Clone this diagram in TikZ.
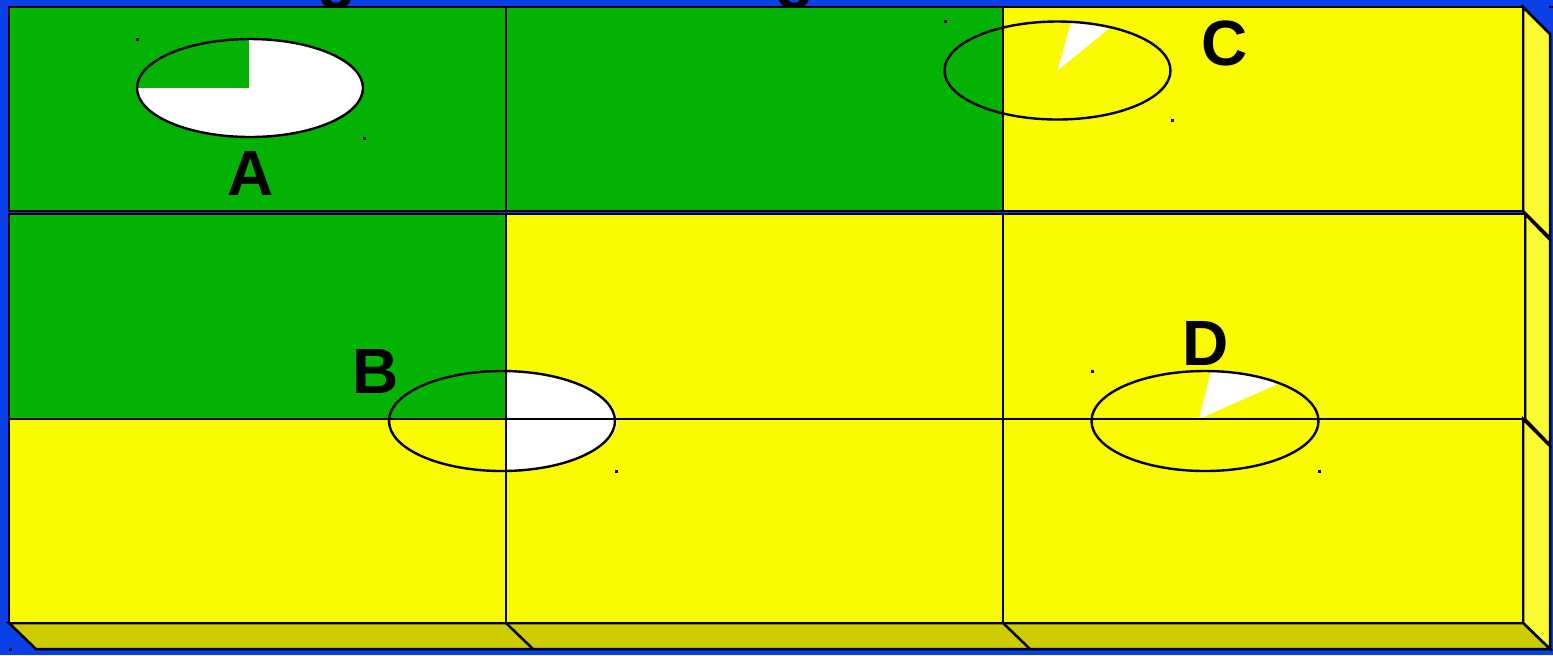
\documentclass[tikz,border=0pt]{standalone}
\usepackage{fontspec}
\usetikzlibrary{calc}
\newfontfamily\labfont{Liberation Sans}
\definecolor{bgblue}{RGB}{10,64,232}
\definecolor{cgreen}{RGB}{4,178,4}
\definecolor{cyellow}{RGB}{250,250,0}
\definecolor{sideyellow}{RGB}{250,250,50}
\definecolor{bottomyellow}{RGB}{204,204,0}
\tikzset{
  cellline/.style={draw=black, line width=1.25pt},
  face/.style={fill=sideyellow, draw=black, line width=1.25pt, line join=miter},
  bottomface/.style={fill=bottomyellow, draw=black, line width=1.25pt, line join=miter},
  lab/.style={font=\labfont\bfseries\fontsize{32}{36}\selectfont, inner sep=0pt, text=black},
  wedge/.style={fill=white},
  oval/.style={draw=black, line width=1.2pt},
  marker/.style={fill=black},
}
\begin{document}
\begin{tikzpicture}[x=0.5pt,y=-0.5pt]
\useasboundingbox (0,0) rectangle (1553,655);
\fill[bgblue] (0,0) rectangle (1553,655);
% partially visible letters at the top
\node[lab,anchor=base] (g1) at (337,-4.5) {g};
\node[lab,anchor=base] (g2) at (795,-4.5) {g};
% row 1
\filldraw[face] (1523,7) -- (1550,34) -- (1550,238) -- (1523,211) -- cycle;
\fill[cgreen] (9,7) rectangle (506,211);
\fill[cgreen] (506,7) rectangle (1003,211);
\fill[cyellow] (1003,7) rectangle (1523,211);
% row 2
\filldraw[face] (1525,214) -- (1550,240) -- (1550,445) -- (1525,419) -- cycle;
\fill[cgreen] (9,214) rectangle (506,419);
\fill[cyellow] (506,214) rectangle (1003,419);
\fill[cyellow] (1003,214) rectangle (1525,419);
% row 3
\filldraw[face] (1523,419) -- (1550,446) -- (1550,649) -- (1523,623) -- cycle;
\filldraw[bottomface] (9,623) -- (36,649) -- (1550,649) -- (1523,623) -- cycle;
\draw[cellline] (506,623) -- (533,649) (1003,623) -- (1030,649);
\fill[cyellow] (9,419) rectangle (506,623);
\fill[cyellow] (506,419) rectangle (1003,623);
\fill[cyellow] (1003,419) rectangle (1523,623);
% white sectors
\fill[wedge] (249,88) -- ++(-90:113 and 49) arc[start angle=-90, end angle=180, x radius=113, y radius=49] -- cycle;
\fill[wedge] (505,421) -- ++(-90:112 and 50) arc[start angle=-90, end angle=90, x radius=112, y radius=50] -- cycle;
\fill[wedge] (1057.5,70.5) -- ++(-83:113 and 49) arc[start angle=-83, end angle=-62, x radius=113, y radius=49] -- cycle;
\coordinate (dctr) at (1205,421);
\fill[wedge] (1199,419) -- ($(dctr)+(-87:113.5 and 50)$) arc[start angle=-87, end angle=-49, x radius=113.5, y radius=50] -- cycle;
% cell outlines
\draw[cellline] (9,7) rectangle (1523,211) (506,7) -- (506,211) (1003,7) -- (1003,211);
\draw[cellline] (9,214) rectangle (1525,419) (506,214) -- (506,419) (1003,214) -- (1003,419);
\draw[cellline] (9,419) rectangle (1523,623) (506,419) -- (506,623) (1003,419) -- (1003,623);
% ellipses
\draw[oval] (250,88) ellipse [x radius=113, y radius=49];
\draw[oval] (502,421) ellipse [x radius=113, y radius=50];
\draw[oval] (1057.5,70.5) ellipse [x radius=113, y radius=49];
\draw[oval] (dctr) ellipse [x radius=113.5, y radius=50];
% labels
\node[lab] (A) at (250.5,173.5) {A};
\node[lab] (B) at (375.5,371) {B};
\node[lab] (C) at (1225,43) {C};
\node[lab] (D) at (1206,343) {D};
% small marks
\foreach \p in {(137,39),(364,138),(945,21),(1172,120),(616,471),(1092,371),(1319,471),(10.5,649.5)}
  \fill[marker] \p +(-1.5,-1.5) rectangle +(1.5,1.5);
\fill[marker] (1549,5.5) rectangle (1553,8);
\end{tikzpicture}
\end{document}
